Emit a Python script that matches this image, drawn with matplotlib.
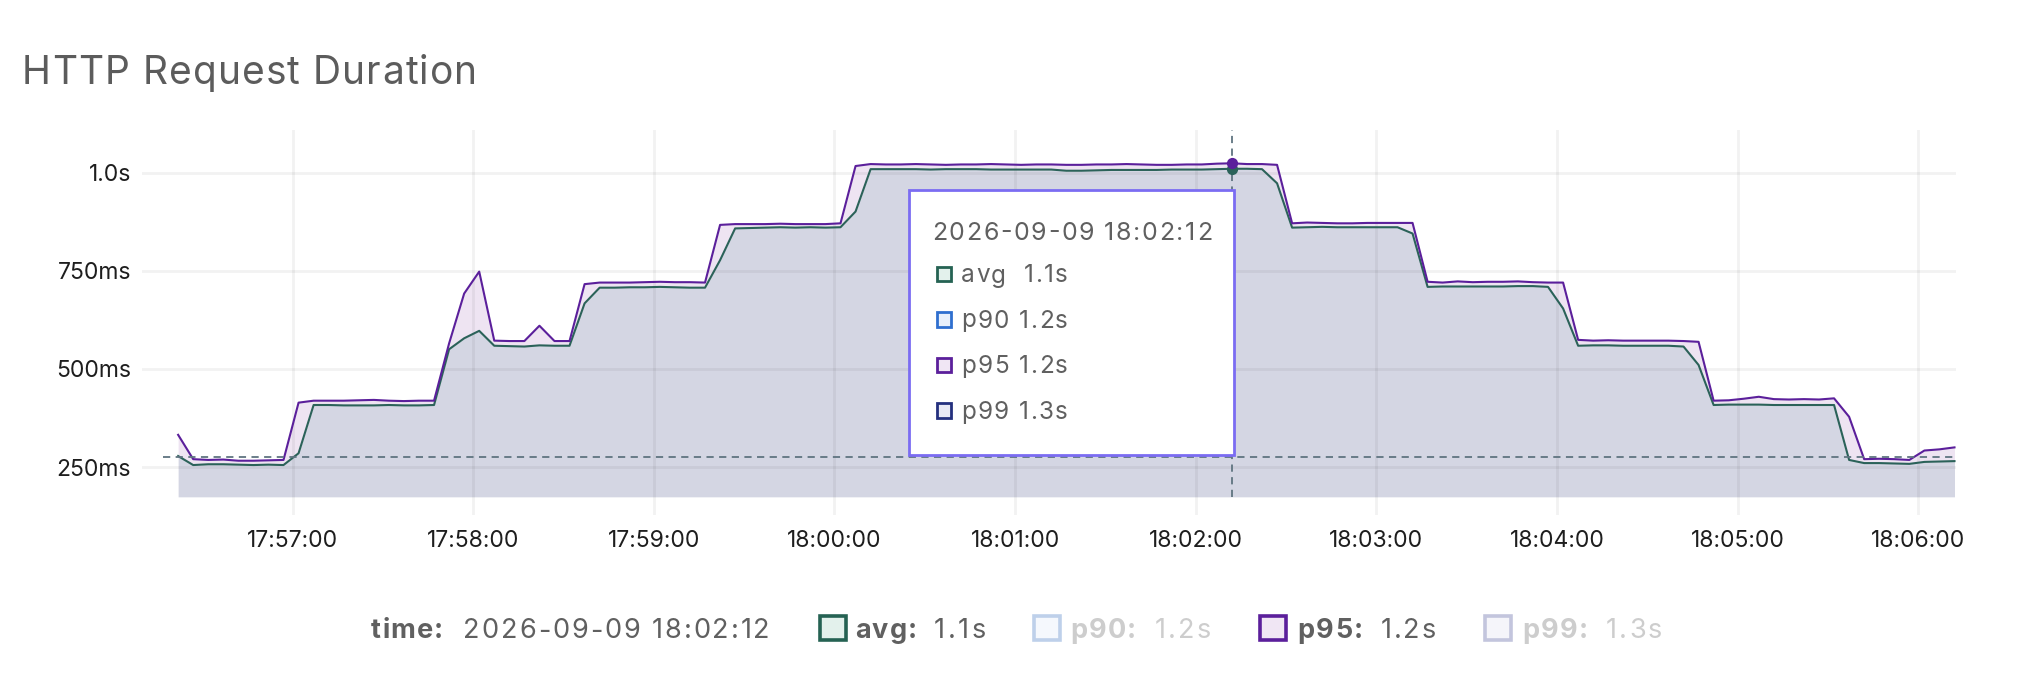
import matplotlib
matplotlib.use("Agg")
import matplotlib.pyplot as plt
import matplotlib.dates as mdates
from matplotlib.patches import Rectangle
from matplotlib import font_manager
from matplotlib.ft2font import FT2Font
import pandas as pd

plt.rcParams['font.family'] = ['Inter', 'DejaVu Sans']

# ---- data (ms), one sample every 5 s ----
start_time = "2026-09-09 17:56:22"
avg_ms = [278,
          255, 257, 257, 256, 255, 256, 255,
          285,
          408, 408, 407, 407, 407, 408, 407, 407, 408,
          550, 578, 597,
          559, 558, 557, 560, 559, 559,
          667,
          707, 707, 708, 708, 709, 708, 707, 707,
          777,
          858, 859, 860, 861, 860, 861, 860, 861,
          901,
          1009, 1009, 1009, 1009, 1008, 1009, 1009, 1009, 1008, 1008, 1008, 1008, 1008,
          1005, 1005, 1006, 1007, 1007, 1007, 1007, 1008, 1008, 1008, 1009, 1010, 1010, 1009,
          973,
          860, 861, 862, 861, 861, 861, 861, 861,
          845,
          709, 710, 710, 710, 710, 710, 711, 711, 709,
          654,
          559, 560, 560, 559, 559, 559, 559, 557,
          510,
          408, 409, 409, 409, 408, 408, 408, 408, 408,
          268,
          260, 260, 259, 258,
          263, 264, 265]
p95_ms = [332,
          270, 268, 269, 266, 266, 267, 268,
          414,
          419, 419, 419, 420, 421, 419, 418, 419, 419,
          565, 692, 748,
          572, 571, 571, 610, 571, 571,
          716,
          720, 720, 720, 721, 722, 721, 721, 720,
          867,
          869, 869, 869, 870, 869, 869, 869, 871,
          1017,
          1022, 1021, 1021, 1022, 1021, 1020, 1021, 1021, 1022, 1021, 1020, 1021, 1021,
          1020, 1020, 1021, 1021, 1022, 1021, 1020, 1020, 1021, 1021, 1023, 1024, 1022, 1022,
          1020,
          871, 873, 872, 871, 871, 872, 872, 872,
          872,
          722, 720, 723, 721, 722, 722, 723, 721, 720,
          720,
          574, 572, 573, 572, 572, 572, 572, 571,
          569,
          419, 420, 424, 429, 423, 422, 423, 422, 425,
          378,
          270, 271, 270, 268,
          292, 295, 300]
times = pd.date_range(start_time, periods=len(avg_ms), freq="5s")

threshold_ms = 276
fill_floor_ms = 174
cursor_time = pd.Timestamp("2026-09-09 18:02:12")
cursor_label = "2026-09-09 18:02:12"
series_names = ["avg", "p90", "p95", "p99"]
series_values = ["1.1s", "1.2s", "1.2s", "1.3s"]
series_active = [True, False, True, False]
y_ticks = [250, 500, 750, 1000]

# ---- colours ----
avg_col = "#2b6259"
p95_col = "#5b1f9b"
edge_cols = ["#256253", "#2f6fcf", "#5b1f9b", "#24307e"]
face_cols = ["#e3f1ec", "#e8f0fb", "#f0e6f4", "#e8e9f4"]
faded_edge = ["#256253", "#bed0ea", "#5b1f9b", "#c3c5dd"]
faded_face = ["#e3f1ec", "#f5f8fd", "#f0e6f4", "#f5f5fa"]
text_col = "#606060"
faded_text = "#cdcdcd"

W, H = 2024, 692
fig = plt.figure(figsize=(W / 100, H / 100), dpi=100)


def fx(x):
    return x / W


def fy(y):
    return 1 - y / H


def advances(s, size, weight):
    path = font_manager.findfont(font_manager.FontProperties(family="Inter", weight=weight))
    f = FT2Font(path)
    f.set_size(size, 100)
    return [f.load_char(ord(c)).linearHoriAdvance / 65536 for c in s]


def spaced(x0, x1, base_y, s, size, color, weight="normal", z=11):
    # letter-spaced text stretched to run from x0 to x1 (pixels)
    adv = advances(s, size, weight)
    sp = ((x1 - x0) - sum(adv)) / max(len(s) - 1, 1)
    x = x0
    for c, a in zip(s, adv):
        if c != " ":
            fig.text(fx(x), fy(base_y), c, fontsize=size, fontweight=weight,
                     color=color, ha="left", va="baseline", zorder=z)
        x += a + sp


ax = fig.add_axes([fx(142), fy(515), fx(1956 - 142), (515 - 130) / H])

ax.fill_between(times, fill_floor_ms, avg_ms, color="#d4d6e3", lw=0, zorder=1)
ax.fill_between(times, avg_ms, p95_ms, color="#eee4f2", lw=0, zorder=1)
ax.plot(times, avg_ms, color=avg_col, lw=1.5, zorder=3)
ax.plot(times, p95_ms, color=p95_col, lw=1.5, zorder=3)

ax.hlines(threshold_ms, pd.Timestamp("2026-09-09 17:56:17"), times[-1],
          colors="#5f7480", linestyles=(0, (4, 3)), lw=1.3, zorder=3)

ax.set_xlim(pd.Timestamp("2026-09-09 17:56:10"), pd.Timestamp("2026-09-09 18:06:12.5"))
ax.set_ylim(127.7, 1108.8)

ci = list(times).index(cursor_time)
ax.vlines(cursor_time, fill_floor_ms, 1108.8, colors="#5f7480",
          linestyles=(0, (4, 3)), lw=1.3, zorder=4)
ax.scatter([cursor_time], [avg_ms[ci]], s=65, color=avg_col, zorder=5, lw=0)
ax.scatter([cursor_time], [p95_ms[ci]], s=65, color=p95_col, zorder=5, lw=0)

ax.set_yticks(y_ticks)
ax.set_yticklabels([f"{v / 1000:.1f}s" if v >= 1000 else f"{v}ms" for v in y_ticks])
ax.xaxis.set_major_locator(mdates.MinuteLocator())
ax.xaxis.set_major_formatter(mdates.DateFormatter("%H:%M:%S"))
ax.tick_params(length=0, labelsize=16.5, labelcolor="#1e1e1e")
ax.tick_params(axis="x", pad=11)
ax.tick_params(axis="y", pad=8)
ax.set_axisbelow(False)
ax.grid(True, color="black", alpha=0.05, lw=2)
for s in ax.spines.values():
    s.set_visible(False)

# ---- title ----
spaced(22, 477, 83.5, "HTTP Request Duration", 28, "#5c5c5c", z=3)

# ---- tooltip ----
fig.add_artist(Rectangle((fx(909), fy(455)), fx(1234 - 909), (455 - 190) / H,
                         transform=fig.transFigure, facecolor="white",
                         edgecolor="#7b6cf2", lw=2, zorder=10))
spaced(932, 1212, 239.5, cursor_label, 18, text_col)
row_base = [282.5, 327.5, 373, 419]
for k in range(4):
    fig.add_artist(Rectangle((fx(937), fy(row_base[k] - 1)), fx(14.5), 14.5 / H,
                             transform=fig.transFigure, facecolor=face_cols[k],
                             edgecolor=edge_cols[k], lw=2.0, zorder=11))
    gap = "  " if series_names[k] == "avg" else " "
    spaced(961, 1068, row_base[k], series_names[k] + gap + series_values[k], 17.5, text_col)

# ---- bottom legend ----
lb = 638.5
spaced(371, 443, lb, "time:", 19.5, text_col, weight="bold", z=3)
spaced(463, 770, lb, cursor_label, 19.5, text_col, z=3)
sq_x = [819.5, 1034.5, 1260.5, 1485.5]
name_x = [(855, 917), (1070, 1136), (1297, 1363), (1522, 1588)]
val_x = [(934, 986), (1155, 1211), (1381, 1436), (1606, 1662)]
for k in range(4):
    on = series_active[k]
    fig.add_artist(Rectangle((fx(sq_x[k]), fy(640)), fx(26), 24 / H,
                             transform=fig.transFigure,
                             facecolor=faded_face[k], edgecolor=faded_edge[k], lw=2.6))
    tc = text_col if on else faded_text
    spaced(name_x[k][0], name_x[k][1], lb, series_names[k] + ":", 19.5, tc,
           weight="bold", z=3)
    spaced(val_x[k][0], val_x[k][1], lb, series_values[k], 19.5, tc, z=3)

fig.savefig("out.png", dpi=100)
